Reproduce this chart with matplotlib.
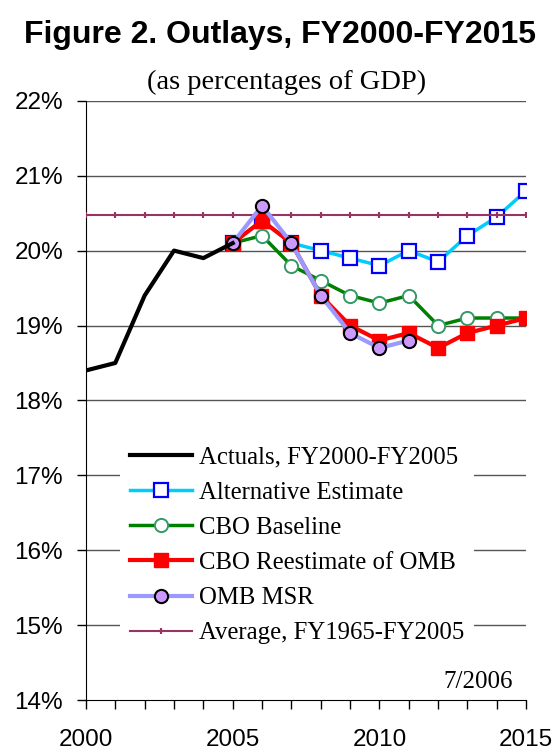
import matplotlib
matplotlib.use("Agg")
from matplotlib import pyplot as plt

years_actual = [2000, 2001, 2002, 2003, 2004, 2005]
actual = [18.4, 18.5, 19.4, 20.0, 19.9, 20.1]

years_proj = [2005, 2006, 2007, 2008, 2009, 2010, 2011, 2012, 2013, 2014, 2015]
alt_estimate = [20.1, 20.4, 20.1, 20.0, 19.9, 19.8, 20.0, 19.85, 20.2, 20.45, 20.8]
cbo_baseline = [20.1, 20.2, 19.8, 19.6, 19.4, 19.3, 19.4, 19.0, 19.1, 19.1, 19.1]
cbo_reestimate = [20.1, 20.4, 20.1, 19.4, 19.0, 18.8, 18.9, 18.7, 18.9, 19.0, 19.1]

years_omb = [2005, 2006, 2007, 2008, 2009, 2010, 2011]
omb_msr = [20.1, 20.6, 20.1, 19.4, 18.9, 18.7, 18.8]

years_all = list(range(2000, 2016))
average = [20.47] * len(years_all)

y_ticks = [14, 15, 16, 17, 18, 19, 20, 21, 22]
x_labels = [2000, 2005, 2010, 2015]

sans = "Liberation Sans"
serif = "Liberation Serif"

fig = plt.figure(figsize=(5.58, 7.52), dpi=100)
ax = fig.add_axes([0.154, 0.069, 0.789, 0.797])

for v in y_ticks[1:]:
    ax.axhline(v, color="#555555", lw=1, zorder=1)

ax.plot(years_actual, actual, color="black", lw=3, zorder=7,
        label="Actuals, FY2000-FY2005")
ax.plot(years_proj, alt_estimate, color="#00CCFF", lw=2.5, marker="s", ms=10,
        mfc="white", mec="#0000FF", mew=1.6, zorder=2, label="Alternative Estimate")
ax.plot(years_proj, cbo_baseline, color="#008000", lw=2.5, marker="o", ms=9.5,
        mfc="white", mec="#339966", mew=1.4, zorder=4, label="CBO Baseline")
ax.plot(years_proj, cbo_reestimate, color="#FF0000", lw=3, marker="s", ms=10,
        mfc="#FF0000", mec="#FF0000", zorder=5, label="CBO Reestimate of OMB")
ax.plot(years_omb, omb_msr, color="#9999FF", lw=3, marker="o", ms=9.5,
        mfc="#CC99FF", mec="black", mew=1.5, zorder=6, label="OMB MSR")
ax.plot(years_all, average, color="#993366", lw=1.5, marker="+", ms=5, mew=1.5,
        zorder=3, label="Average, FY1965-FY2005")

ax.set_xlim(2000, 2015)
ax.set_ylim(14, 22)
ax.set_xticks(years_all)
ax.set_xticklabels([str(y) if y in x_labels else "" for y in years_all],
                   fontfamily=sans, fontsize=17.5)
ax.set_yticks(y_ticks)
ax.set_yticklabels([f"{v}%" for v in y_ticks], fontfamily=sans, fontsize=17.5)
ax.tick_params(axis="both", direction="out", length=6.5, width=1, color="black")
ax.tick_params(axis="y", pad=10)
ax.tick_params(axis="x", pad=14)

ax.spines["top"].set_visible(False)
ax.spines["right"].set_visible(False)

leg = ax.legend(loc="upper left", bbox_to_anchor=(0.077, 0.44), numpoints=1,
                prop={"family": serif, "size": 17.8}, handlelength=2.5,
                handletextpad=0.3, labelspacing=0.52, borderaxespad=0,
                borderpad=0.4, frameon=True, fancybox=False, framealpha=1)
leg.get_frame().set_edgecolor("none")
leg.get_frame().set_facecolor("white")
leg.set_zorder(10)

ax.text(0.97, 0.012, "7/2006", transform=ax.transAxes, ha="right", va="bottom",
        family=serif, fontsize=18, zorder=11)

fig.text(0.502, 0.953, "Figure 2. Outlays, FY2000-FY2015", ha="center", va="center",
         family=sans, fontsize=23, fontweight="bold")
fig.text(0.513, 0.89, "(as percentages of GDP)", ha="center", va="center",
         family=serif, fontsize=20.5)

fig.savefig("out.png", dpi=100)
